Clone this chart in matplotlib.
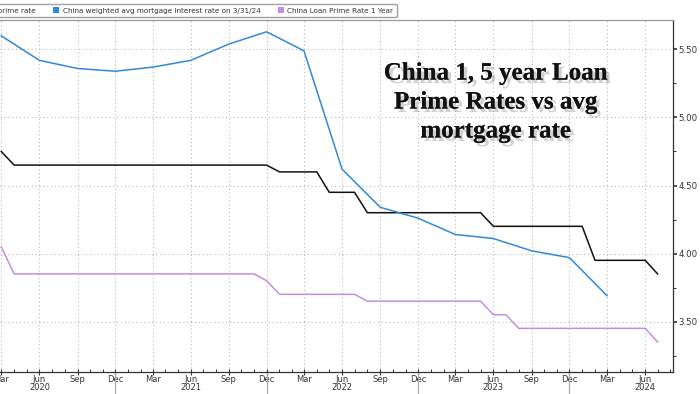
import matplotlib

matplotlib.use("Agg")
import matplotlib.dates as mdates
import matplotlib.patheffects as pe
import matplotlib.pyplot as plt
import pandas as pd
from matplotlib.patches import Patch
from matplotlib.ticker import FormatStrFormatter, MultipleLocator

# Monthly loan prime rates, Mar 2020 .. Jul 2024
months = pd.date_range("2020-03-01", "2024-07-01", freq="MS")
lpr_5y = [
    4.75, 4.65, 4.65, 4.65, 4.65, 4.65, 4.65, 4.65, 4.65, 4.65,        # 2020 Mar-Dec
    4.65, 4.65, 4.65, 4.65, 4.65, 4.65, 4.65, 4.65, 4.65, 4.65, 4.65, 4.65,  # 2021
    4.60, 4.60, 4.60, 4.60, 4.45, 4.45, 4.45, 4.30, 4.30, 4.30, 4.30, 4.30,  # 2022
    4.30, 4.30, 4.30, 4.30, 4.30, 4.20, 4.20, 4.20, 4.20, 4.20, 4.20, 4.20,  # 2023
    4.20, 3.95, 3.95, 3.95, 3.95, 3.95, 3.85,                          # 2024 Jan-Jul
]
lpr_1y = [
    4.05, 3.85, 3.85, 3.85, 3.85, 3.85, 3.85, 3.85, 3.85, 3.85,
    3.85, 3.85, 3.85, 3.85, 3.85, 3.85, 3.85, 3.85, 3.85, 3.85, 3.85, 3.80,
    3.70, 3.70, 3.70, 3.70, 3.70, 3.70, 3.70, 3.65, 3.65, 3.65, 3.65, 3.65,
    3.65, 3.65, 3.65, 3.65, 3.65, 3.55, 3.55, 3.45, 3.45, 3.45, 3.45, 3.45,
    3.45, 3.45, 3.45, 3.45, 3.45, 3.45, 3.35,
]

# Quarterly weighted average mortgage rate, Q1 2020 .. Q1 2024
quarters = pd.date_range("2020-03-01", "2024-03-01", freq="3MS")
mortgage = [5.60, 5.42, 5.36, 5.34, 5.37, 5.42, 5.54, 5.63, 5.49,
            4.62, 4.34, 4.26, 4.14, 4.11, 4.02, 3.97, 3.69]

labels = [
    "China 5-year loan prime rate",
    "China weighted avg mortgage interest rate on 3/31/24",
    "China Loan Prime Rate 1 Year",
]
colors = ["#111111", "#2f8ad8", "#c68ce2"]
title = "China 1, 5 year Loan\nPrime Rates vs avg\nmortgage rate"

fig = plt.figure(figsize=(7, 3.94), dpi=100)
ax = fig.add_axes([0.0, 0.0558, 0.9614, 0.8922])

ax.plot(months, lpr_5y, color=colors[0], lw=1.1)
ax.plot(quarters, mortgage, color=colors[1], lw=1.1)
ax.plot(months, lpr_1y, color=colors[2], lw=1.1)

ax.set_xlim(pd.Timestamp("2020-02-27"), pd.Timestamp("2024-08-07"))
ax.set_ylim(3.129, 5.713)

# x ticks: quarterly labels with year under June, monthly minor ticks
major = pd.date_range("2020-03-01", "2024-06-01", freq="3MS")
xlabels = [d.strftime("%b") + ("\n" + str(d.year) if d.month == 6 else "") for d in major]
ax.set_xticks(major)
ax.set_xticklabels(xlabels, linespacing=0.95)
ax.xaxis.set_minor_locator(mdates.MonthLocator())

# y ticks on the right
ax.yaxis.tick_right()
ax.yaxis.set_major_locator(MultipleLocator(0.5))
ax.yaxis.set_minor_locator(MultipleLocator(0.25))
ax.yaxis.set_major_formatter(FormatStrFormatter("%.2f"))

ax.tick_params(axis="x", which="major", direction="inout", length=4, width=0.8,
               labelsize=6, colors="#333333", pad=0)
ax.tick_params(axis="x", which="minor", direction="in", length=2.5, width=0.7,
               color="#333333")
ax.tick_params(axis="y", which="major", direction="out", length=3, width=1.2,
               labelsize=6.2, colors="#333333", pad=1)
ax.tick_params(axis="y", which="minor", direction="out", length=2, width=0.7,
               color="#333333")

ax.grid(which="major", color="#b8b8b8", linestyle=(0, (1, 2.5)), linewidth=0.8)

ax.spines["left"].set_visible(False)
ax.spines["top"].set_color("#9a9a9a")
ax.spines["right"].set_color("#333333")
ax.spines["bottom"].set_color("#333333")
for s in ax.spines.values():
    s.set_linewidth(0.9)

# year separators below the axis
for d in pd.date_range("2020-12-01", "2023-12-01", freq="12MS"):
    ax.plot([d, d], [0, -0.06], transform=ax.get_xaxis_transform(),
            color="#aaaaaa", lw=0.9, clip_on=False)

# legend along the top, clipped at the left edge
handles = [Patch(facecolor=c, edgecolor="none") for c in colors]
fig.legend(handles, labels, loc="upper right", bbox_to_anchor=(0.572, 1.0),
           ncol=3, fontsize=5.2, frameon=True, fancybox=True,
           edgecolor="#888888", handlelength=0.85, handleheight=0.85,
           handletextpad=0.45, columnspacing=2.4, borderpad=0.5,
           labelcolor="#333333")

fig.text(0.708, 0.741, title, ha="center", va="center", fontsize=18,
         family="Liberation Serif", fontweight="bold", color="#111111",
         linespacing=1.33,
         path_effects=[pe.withSimplePatchShadow(offset=(2.5, -2.5), shadow_rgbFace="#8a8a8a",
                                                alpha=0.4), pe.Normal()])

fig.savefig("out.png", dpi=100)
